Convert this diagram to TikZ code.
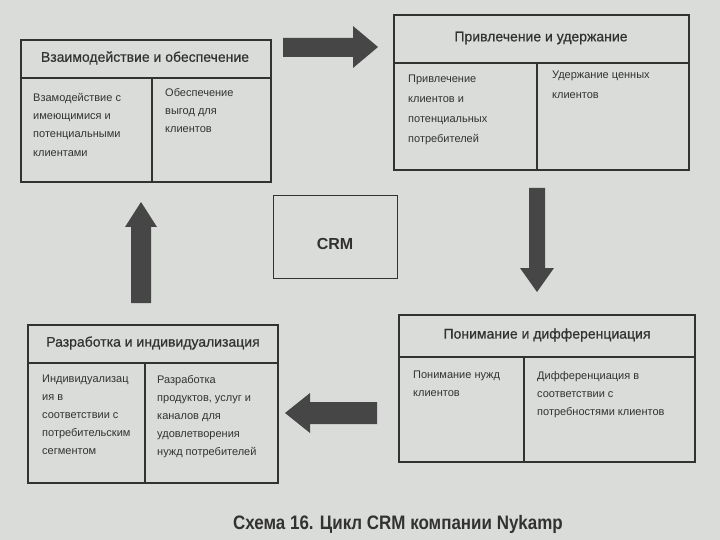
\documentclass[tikz,border=0pt]{standalone}
\usepackage{fontspec}
\setmainfont{Liberation Sans}
\newfontfamily\headfont[FakeBold=0.6]{Liberation Sans}
\definecolor{bg}{RGB}{218,220,217}
\definecolor{ink}{RGB}{50,50,50}
\definecolor{arr}{RGB}{70,70,70}
\tikzset{
  frame/.style={draw=ink, line width=1.1pt},
  sep/.style={draw=ink, line width=1.1pt},
  head/.style={text=ink, font=\headfont\fontsize{14}{16}\selectfont, inner sep=0pt},
  body/.style={text=ink, font=\fontsize{11}{19}\selectfont, align=left, anchor=north west, inner sep=0pt},
  blockarrow/.style={fill=arr, draw=none},
}
\begin{document}
\begin{tikzpicture}[x=1pt,y=-1pt]
\useasboundingbox[fill=bg] (0,0) rectangle (720,540);

% Box 1
\draw[frame] (21,40) rectangle (271,182);
\draw[sep] (21,78) -- (271,78);
\draw[sep] (152,78) -- (152,182);
\node[head] (h1) at (145,58) {Взаимодействие и обеспечение};
\node[body, font=\fontsize{11}{18.3}\selectfont] (b1a) at (33,93) {Взамодействие с\\имеющимися и\\потенциальными\\клиентами};
\node[body, font=\fontsize{11}{18.3}\selectfont] (b1b) at (165,88) {Обеспечение\\выгод для\\клиентов};

% Box 2
\draw[frame] (394,15) rectangle (689,170);
\draw[sep] (394,63) -- (689,63);
\draw[sep] (537,63) -- (537,170);
\node[head] (h2) at (541,38) {Привлечение и удержание};
\node[body, font=\fontsize{11}{20}\selectfont] (b2a) at (408,75) {Привлечение\\клиентов и\\потенциальных\\потребителей};
\node[body, font=\fontsize{11}{20}\selectfont] (b2b) at (552,71) {Удержание ценных\\клиентов};

% CRM box
\draw[frame, line width=0.9pt] (273,195) rectangle (397,278);
\node[text=ink, font=\bfseries\fontsize{16}{18}\selectfont, inner sep=0pt] (crm) at (335,244) {CRM};

% Box 4
\draw[frame] (28,325) rectangle (278,483);
\draw[sep] (28,363) -- (278,363);
\draw[sep] (145,363) -- (145,483);
\node[head] (h4) at (153,343) {Разработка и индивидуализация};
\node[body, font=\fontsize{11}{18}\selectfont] (b4a) at (42,375) {Индивидуализац\\ия в\\соответствии с\\потребительским\\сегментом};
\node[body, font=\fontsize{11}{18}\selectfont] (b4b) at (157,375) {Разработка\\продуктов, услуг и\\каналов для\\удовлетворения\\нужд потребителей};

% Box 5
\draw[frame] (399,315) rectangle (695,462);
\draw[sep] (399,357) -- (695,357);
\draw[sep] (524,357) -- (524,462);
\node[head] (h5) at (547,335) {Понимание и дифференциация};
\node[body, font=\fontsize{11}{18}\selectfont] (b5a) at (413,371) {Понимание нужд\\клиентов};
\node[body, font=\fontsize{11}{18}\selectfont] (b5b) at (537,371) {Дифференциация в\\соответствии с\\потребностями клиентов};

% Arrows
\fill[blockarrow] (283,38) -- (353,38) -- (353,26) -- (378,47) -- (353,68) -- (353,57) -- (283,57) -- cycle;
\fill[blockarrow] (529,188) -- (545,188) -- (545,268) -- (554,268) -- (537,292) -- (520,268) -- (529,268) -- cycle;
\fill[blockarrow] (377,402) -- (310,402) -- (310,393) -- (285,413) -- (310,433) -- (310,424) -- (377,424) -- cycle;
\fill[blockarrow] (131,303) -- (151,303) -- (151,227) -- (157,227) -- (141,202) -- (125,227) -- (131,227) -- cycle;

% Caption
\node[text=ink, font=\bfseries\fontsize{19.5}{22}\selectfont, inner sep=0pt] (cap) at (398,524) {\scalebox{0.87}[1]{Схема 16. Цикл CRM компании Nykamp}};
\end{tikzpicture}
\end{document}
